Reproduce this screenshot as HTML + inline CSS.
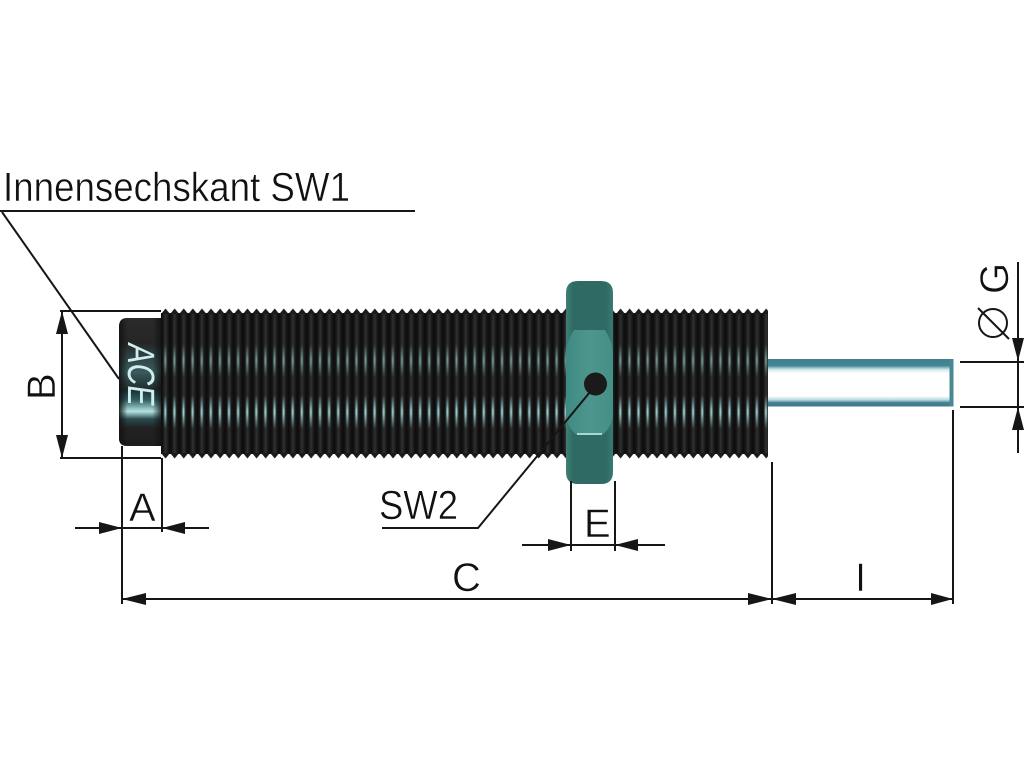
<!DOCTYPE html>
<html><head><meta charset="utf-8"><style>
html,body{margin:0;padding:0;background:#fff}
svg{display:block}
text{font-family:"Liberation Sans",sans-serif;fill:#111;stroke:#fff;stroke-width:.5px}
</style></head><body>
<svg width="1024" height="768" viewBox="0 0 1024 768" xmlns="http://www.w3.org/2000/svg">
<defs>
<linearGradient id="band" x1="0" y1="0" x2="1" y2="0">
<stop offset="0" stop-color="#0c0c0c"/>
<stop offset=".2" stop-color="#141414"/>
<stop offset=".5" stop-color="#303030"/>
<stop offset=".8" stop-color="#161616"/>
<stop offset="1" stop-color="#0c0c0c"/>
</linearGradient>
<linearGradient id="hlg" x1="0" y1="0" x2="1" y2="0">
<stop offset="0" stop-color="#a6e2e2" stop-opacity="0"/>
<stop offset=".5" stop-color="#a6e2e2"/>
<stop offset="1" stop-color="#a6e2e2" stop-opacity="0"/>
</linearGradient>
<pattern id="grooves" x="161" y="0" width="9.1" height="10" patternUnits="userSpaceOnUse">
<rect width="9.1" height="10" fill="url(#band)"/>
</pattern>
<pattern id="hl" x="161" y="0" width="9.1" height="10" patternUnits="userSpaceOnUse">
<rect x="2.3" width="4" height="10" fill="url(#hlg)"/>
</pattern>
<pattern id="teethT" x="161" y="308" width="9.1" height="6" patternUnits="userSpaceOnUse">
<polygon points="0,6 4.55,0.5 9.1,6" fill="#1b1b1b"/>
</pattern>
<pattern id="teethB" x="161" y="453" width="9.1" height="6" patternUnits="userSpaceOnUse">
<polygon points="0,0 4.55,5.5 9.1,0" fill="#1b1b1b"/>
</pattern>
<linearGradient id="hv" x1="0" y1="0" x2="0" y2="1">
<stop offset="0" stop-color="#fff" stop-opacity="0"/>
<stop offset=".45" stop-color="#fff" stop-opacity=".65"/>
<stop offset=".55" stop-color="#fff" stop-opacity=".65"/>
<stop offset="1" stop-color="#fff" stop-opacity="0"/>
</linearGradient>
<linearGradient id="hv2" x1="0" y1="0" x2="0" y2="1">
<stop offset="0" stop-color="#fff" stop-opacity="0"/>
<stop offset=".45" stop-color="#fff"/>
<stop offset=".55" stop-color="#fff"/>
<stop offset="1" stop-color="#fff" stop-opacity="0"/>
</linearGradient>
<mask id="m1"><rect x="161" y="344" width="610" height="33" fill="url(#hv)"/></mask>
<mask id="m2"><rect x="161" y="395" width="610" height="34" fill="url(#hv2)"/></mask>
<linearGradient id="cap" x1="0" y1="0" x2="0" y2="1">
<stop offset="0" stop-color="#2a2a2a"/>
<stop offset=".2" stop-color="#262626"/>
<stop offset=".3" stop-color="#2f4244"/>
<stop offset=".42" stop-color="#3b5a5c"/>
<stop offset=".56" stop-color="#1f2a2b"/>
<stop offset=".64" stop-color="#2f5f63"/>
<stop offset=".73" stop-color="#b5e2e2"/>
<stop offset=".79" stop-color="#294a4d"/>
<stop offset=".86" stop-color="#222"/>
<stop offset="1" stop-color="#1e1e1e"/>
</linearGradient>
<linearGradient id="capEdge" x1="0" y1="0" x2="1" y2="0">
<stop offset="0" stop-color="#111" stop-opacity=".9"/>
<stop offset=".2" stop-color="#111" stop-opacity="0"/>
<stop offset=".8" stop-color="#111" stop-opacity="0"/>
<stop offset="1" stop-color="#111" stop-opacity=".75"/>
</linearGradient>
<linearGradient id="rod" x1="0" y1="0" x2="0" y2="1">
<stop offset="0" stop-color="#3f7f8e"/>
<stop offset=".14" stop-color="#438696"/>
<stop offset=".22" stop-color="#cfe6ea"/>
<stop offset=".3" stop-color="#fff"/>
<stop offset=".78" stop-color="#fff"/>
<stop offset=".86" stop-color="#b9dbe2"/>
<stop offset=".92" stop-color="#437f90"/>
<stop offset="1" stop-color="#3f7c8c"/>
</linearGradient>
<linearGradient id="nutOuter" x1="0" y1="0" x2="1" y2="0">
<stop offset="0" stop-color="#3f7f76"/>
<stop offset=".15" stop-color="#2f6b64"/>
<stop offset=".85" stop-color="#2f6b64"/>
<stop offset="1" stop-color="#3a7a72"/>
</linearGradient>
<linearGradient id="nutFace" x1="0" y1="0" x2="1" y2="0">
<stop offset="0" stop-color="#3f8a82"/>
<stop offset=".5" stop-color="#4c968e"/>
<stop offset="1" stop-color="#448f87"/>
</linearGradient>
</defs>

<!-- Threaded body -->
<rect x="161" y="313" width="607" height="141" fill="url(#grooves)"/>
<rect x="161" y="308" width="607" height="6" fill="url(#teethT)"/>
<rect x="161" y="453" width="607" height="6" fill="url(#teethB)"/>
<rect x="161" y="344" width="607" height="33" fill="url(#hl)" mask="url(#m1)"/>
<rect x="161" y="395" width="607" height="34" fill="url(#hl)" mask="url(#m2)"/>

<!-- End cap -->
<path d="M161,318 H127 Q119,318 119,327 V438 Q119,446 127,446 H161 Z" fill="url(#cap)"/>
<path d="M161,318 H127 Q119,318 119,327 V438 Q119,446 127,446 H161 Z" fill="url(#capEdge)"/>
<text transform="translate(128,342) rotate(90) skewX(-8)" x="0" y="0" font-size="38" textLength="62" lengthAdjust="spacingAndGlyphs" style="fill:#cfeeee;stroke:none">ACE</text>

<!-- Piston rod -->
<rect x="768" y="359" width="185" height="47.5" fill="url(#rod)"/>
<rect x="949.500" y="359" width="4" height="47.5" fill="#4a8796"/>

<!-- Nut -->
<path d="M578,281 H601 Q613,281 613,293 V472 Q613,484 601,484 H578 Q566,484 566,472 V293 Q566,281 578,281 Z" fill="url(#nutOuter)"/>
<path d="M574,330 H605 C610,338 613,346 613,356 V412 C613,422 609,430 602,435 H577 C570,430 566,422 566,412 V356 C566,346 569,338 574,330 Z" fill="url(#nutFace)"/>
<rect x="577" y="433" width="25" height="2" fill="#a8d8cf"/>
<circle cx="595.5" cy="384" r="11.5" fill="#1a1a1a"/>

<!-- Lines -->
<g stroke="#161616" stroke-width="2" fill="none">
<path d="M0,211 H415"/>
<path d="M2,212 L119,379"/>
<path d="M60,311 H161 M60,458 H161"/>
<path d="M62,311 V458"/>
<path d="M122,446 V604 M162,458 V532"/>
<path d="M75,528 H209"/>
<path d="M122,599 H953"/>
<path d="M772,462 V604 M953,410 V604"/>
<path d="M571,481 V551 M615,481 V551"/>
<path d="M522,545 H665"/>
<path d="M382,528 H478 L590,392"/>
<path d="M960,362 H1024 M960,407 H1024"/>
<path d="M1018,262 V453"/>
</g>

<!-- Arrowheads -->
<g fill="#161616">
<polygon points="62,311 56,334 68,334"/>
<polygon points="62,458 56,435 68,435"/>
<polygon points="122,528 99,522 99,534"/>
<polygon points="162,528 185,522 185,534"/>
<polygon points="122,599 146,593 146,605"/>
<polygon points="772,599 748,593 748,605"/>
<polygon points="772,599 796,593 796,605"/>
<polygon points="953,599 931,593 931,605"/>
<polygon points="571,545 548,539 548,551"/>
<polygon points="615,545 638,539 638,551"/>
<polygon points="1018,361 1012,338 1024,338"/>
<polygon points="1018,407 1012,430 1024,430"/>
</g>

<!-- Labels -->
<text x="3" y="201" font-size="41" textLength="347" lengthAdjust="spacingAndGlyphs">Innensechskant SW1</text>
<text x="379" y="519" font-size="41" textLength="79" lengthAdjust="spacingAndGlyphs">SW2</text>
<text x="129" y="521" font-size="40">A</text>
<text x="584" y="537" font-size="40">E</text>
<text x="452" y="591" font-size="40">C</text>
<text x="855" y="591" font-size="40">I</text>
<text transform="translate(55,400) rotate(-90)" font-size="40" x="0" y="0">B</text>
<text transform="translate(1008,294) rotate(-90)" font-size="40" x="0" y="0">G</text>

<!-- Diameter symbol -->
<g stroke="#161616" stroke-width="2" fill="none">
<circle cx="993" cy="323" r="14"/>
<path d="M978,308 L1009,339"/>
</g>
</svg>
</body></html>
